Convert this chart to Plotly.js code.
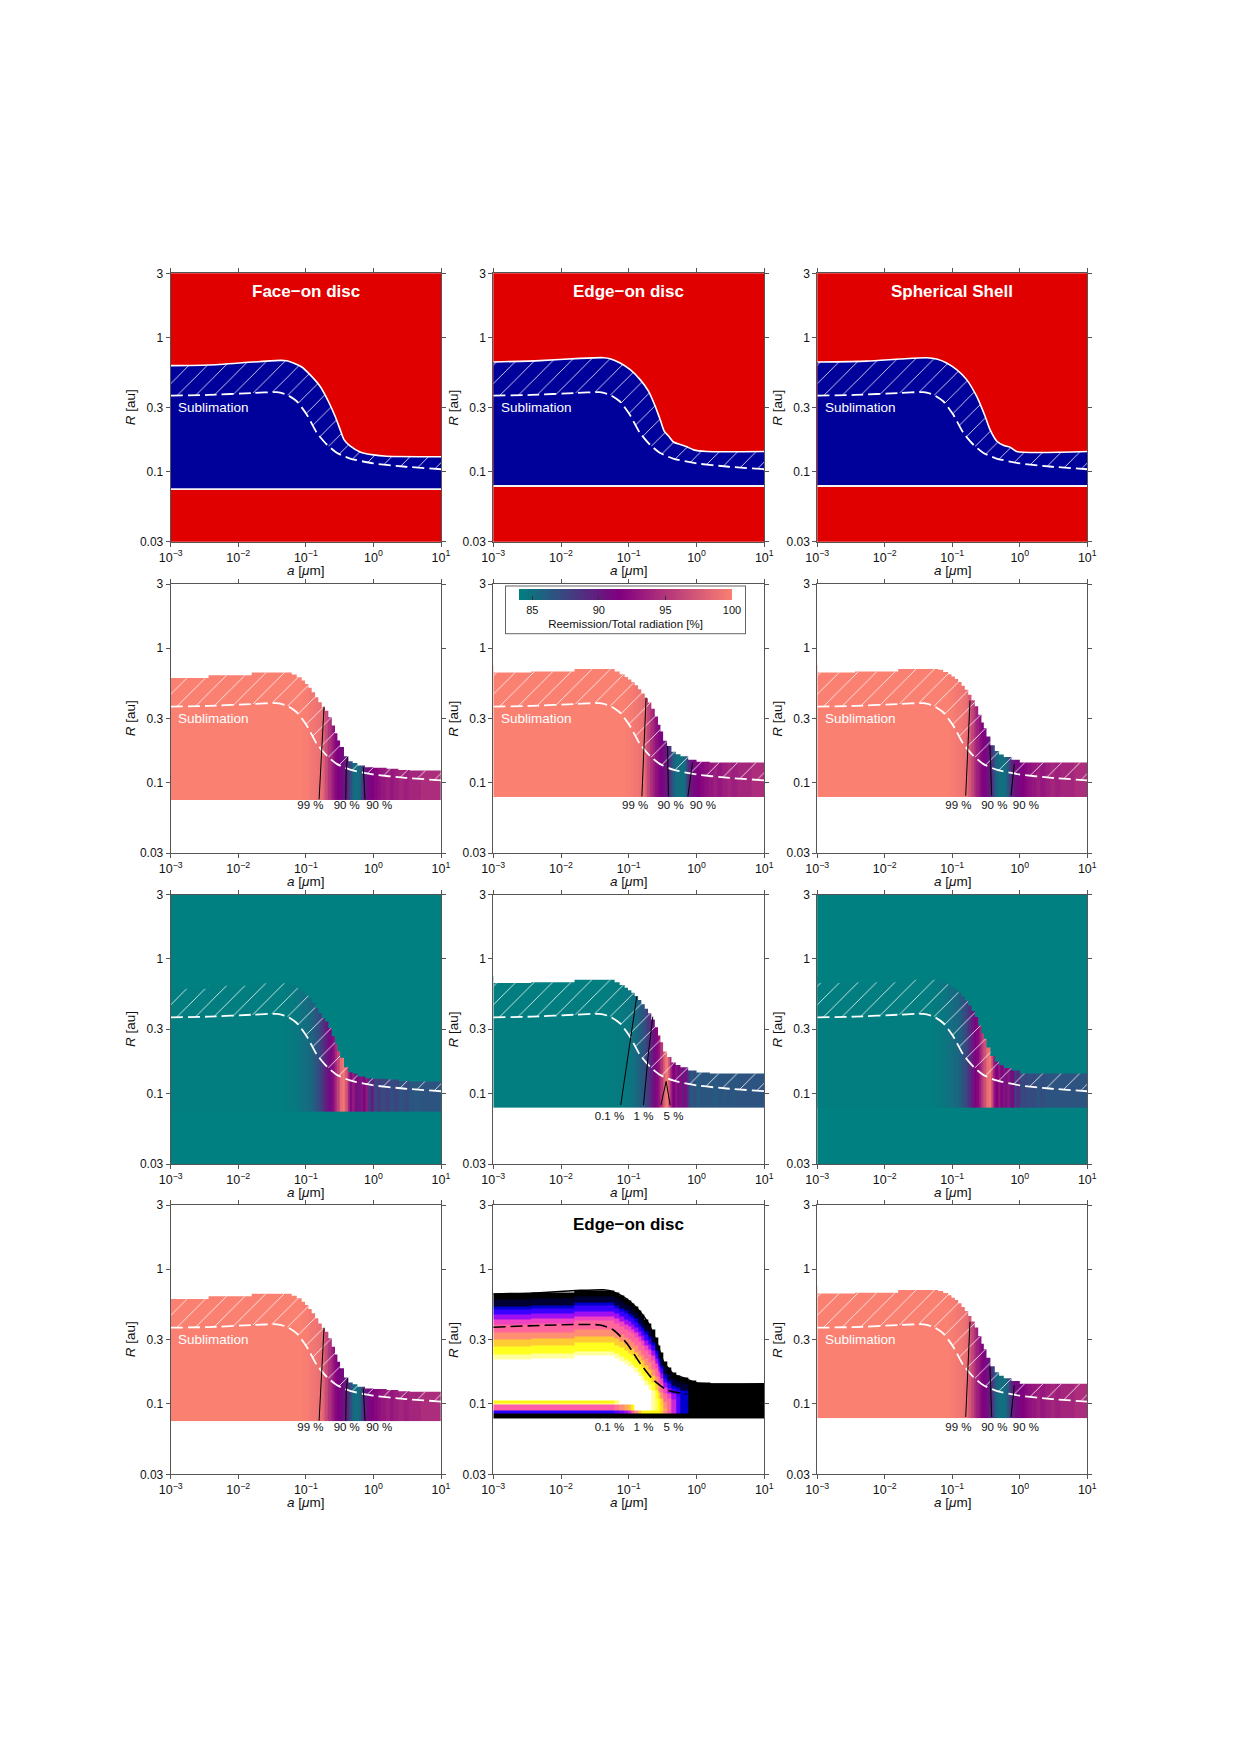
<!DOCTYPE html>
<html><head><meta charset="utf-8">
<script src="https://cdn.plot.ly/plotly-3.0.1.min.js"></script>
<style>html,body{margin:0;padding:0;background:#fff}</style>
</head><body>
<div id="chart" style="width:1241px;height:1754px"></div>
<script>
// ================= DATA =================
const aTickVals = [0.001, 0.01, 0.1, 1, 10];
const aTickText = ['10<sup>−3</sup>', '10<sup>−2</sup>', '10<sup>−1</sup>', '10<sup>0</sup>', '10<sup>1</sup>'];
const rTickVals = [0.03, 0.1, 0.3, 1, 3];
const rTickText = ['0.03', '0.1', '0.3', '1', '3'];
const xTitle = '<i>a</i> [<i>μ</i>m]';
const yTitle = '<i>R</i> [au]';

const geomTitles = ['Face−on disc', 'Edge−on disc', 'Spherical Shell'];
const innerR = [0.074, 0.078, 0.078];

// sublimation radius (dashed)
const sublimA = [0.001, 0.0036, 0.0167, 0.0371, 0.0521, 0.0733, 0.103, 0.145, 0.204, 0.286, 0.451, 1.0, 2.78, 10];
const sublimR = [0.368, 0.372, 0.385, 0.390, 0.374, 0.334, 0.266, 0.195, 0.159, 0.138, 0.125, 0.115, 0.109, 0.104];

// outer edge of the dust region (smooth)
const outerA_face = [0.001, 0.0036, 0.0167, 0.0415, 0.0521, 0.0654, 0.0869, 0.115, 0.162, 0.215, 0.270, 0.321, 0.367, 0.451, 0.634, 1.0, 1.57, 10];
const outerR_face = [0.615, 0.622, 0.655, 0.673, 0.670, 0.644, 0.601, 0.527, 0.432, 0.334, 0.259, 0.206, 0.173, 0.155, 0.140, 0.133, 0.130, 0.129];
const outerA_edge = [0.001, 0.0049, 0.0191, 0.0423, 0.0530, 0.0745, 0.105, 0.147, 0.195, 0.245, 0.290, 0.333, 0.386, 0.457, 0.574, 0.720, 0.904, 1.42, 10];
const outerR_edge = [0.655, 0.670, 0.697, 0.705, 0.693, 0.644, 0.574, 0.484, 0.397, 0.307, 0.244, 0.200, 0.184, 0.166, 0.159, 0.153, 0.145, 0.141, 0.141];
const outerA_shell = [0.001, 0.00538, 0.0168, 0.0417, 0.0586, 0.0824, 0.116, 0.163, 0.229, 0.305, 0.361, 0.454, 0.570, 0.715, 0.898, 10];
const outerR_shell = [0.655, 0.665, 0.689, 0.705, 0.689, 0.644, 0.574, 0.484, 0.364, 0.259, 0.206, 0.169, 0.157, 0.152, 0.141, 0.141];

// stepped (grid) outer edge used by the maps
const stepEdges = [0.001, 0.00363, 0.0158, 0.0618, 0.0733, 0.0869, 0.0973, 0.109, 0.122, 0.137, 0.153, 0.172, 0.192, 0.215, 0.242, 0.270, 0.293, 0.321, 0.367, 0.426, 0.494, 0.579, 0.752, 1.0, 1.57, 2.34, 3.47, 10];
const stepR_face = [0.60, 0.63, 0.659, 0.636, 0.608, 0.574, 0.542, 0.507, 0.471, 0.432, 0.396, 0.364, 0.343, 0.307, 0.266, 0.233, 0.206, 0.184, 0.157, 0.144, 0.140, 0.134, 0.130, 0.129, 0.127, 0.124, 0.123];
const stepR_edge = [0.66, 0.67, 0.70, 0.67, 0.64, 0.61, 0.585, 0.56, 0.53, 0.495, 0.46, 0.425, 0.395, 0.355, 0.31, 0.27, 0.24, 0.205, 0.187, 0.17, 0.163, 0.157, 0.148, 0.143, 0.141, 0.141, 0.141];
const stepR_shell = [0.66, 0.67, 0.70, 0.69, 0.665, 0.64, 0.615, 0.59, 0.56, 0.525, 0.49, 0.45, 0.41, 0.37, 0.32, 0.28, 0.255, 0.22, 0.19, 0.172, 0.162, 0.155, 0.148, 0.141, 0.141, 0.141, 0.141];

// colour columns (grain size bins)
const colorEdges = [0.001, 0.05, 0.065, 0.08, 0.09, 0.105, 0.115, 0.125, 0.135, 0.145, 0.16, 0.175, 0.19, 0.21, 0.23, 0.25, 0.27, 0.29, 0.32, 0.35, 0.38, 0.41, 0.44, 0.48, 0.52, 0.56, 0.6, 0.65, 0.7, 0.76, 0.82, 0.9, 1.0, 1.15, 1.3, 1.5, 1.75, 2.0, 2.4, 2.8, 3.3, 4.0, 5.0, 6.5, 8.0, 10];

// Reemission / total radiation [%]
const reemFace = [100,100,100,100, 99.9,99.7,99.5,99.4,99.3,99.1,98.8,98.0,96.5,95, 94,93,92,91.5,91,90.5,89.8,88.5,87,85.5, 85,85,85.5,87,89.5,90.5,91,91.5,92,92.5, 93,93.5,93,93.5,94,93.5,94,94,94.5,94.5,94.5];
const reemEdge = [100,100,100,100, 99.9,99.7,99.5,99.4,99.3,99.1,98.8,97.5,96,94.5, 93.5,92.5,91.8,91.2,90.6,90.2,89,87.5,86,85, 85,85,85,85.5,87.5,89.5,90.5,91,91.5,92, 92.5,93,93.5,93,93.5,94,93.5,94,94,94.5,94.5];
const reemShell = [100,100,100,100, 99.9,99.7,99.5,99.4,99.3,99.1,98.7,97.5,96,94.5, 93.5,92.5,91.8,91.2,90.6,90.0,88.5,87,85.5,85, 85,85,85.5,86.5,88,89.8,90.5,91,91.5,92, 92.5,93,93.5,93,93.5,94,93.5,94,94,94.5,94.5];

// third row: scattered fraction [%]
const scatFace = [0.05,0.1,0.2,0.3,0.4,0.5,0.6,0.75,0.9,1.1, 1.4,1.8,2.2,2.6,2.5,3.2,3.8,4.5,5.5,5.8, 5.0,3.8,2.6,3.4,2.4,3.0,2.2,3.2,2.6,3.4, 1.6,2.2,1.3,1.6,1.2,1.4,1.1,1.3,1.0,1.2, 1.0,0.9,1.0,1.0,1.0];
const scatEdge = [0.05,0.08,0.1,0.15,0.2,0.3,0.4,0.5,0.6,0.8, 1.0,1.3,1.7,2.1,2.6,3.0,3.4,4.2,5.2,5.8, 4.8,3.6,2.8,3.3,2.5,3.1,2.3,3.0,2.0,1.3, 0.9,1.1,0.8,1.0,0.9,1.0,0.8,1.0,0.9,1.0, 0.9,1.0,1.0,1.0,1.0];
const scatShell = [0.05,0.1,0.2,0.3,0.4,0.5,0.6,0.75,0.9,1.1, 1.4,1.8,2.3,2.8,3.0,3.6,4.2,4.8,5.6,5.8, 4.6,3.4,2.8,3.4,2.6,3.2,2.4,3.3,2.2,2.6, 1.4,1.8,1.2,1.3,1.1,1.2,1.0,1.1,1.0,1.0, 1.0,1.0,1.0,1.0,1.0];

// contour lines (reemission)
const cont99A = [[0.157, 0.186], [0.156, 0.180], [0.158, 0.183]];
const cont99R = [[0.075, 0.368], [0.079, 0.43], [0.080, 0.408]];
const cont90aA = [[0.389, 0.395, 0.412], [0.385, 0.380, 0.373], [0.383, 0.372, 0.361]];
const cont90aR = [[0.075, 0.12, 0.155], [0.079, 0.13, 0.187], [0.080, 0.13, 0.189]];
const cont90bA = [[0.752, 0.709], [0.745, 0.873], [0.740, 0.83]];
const cont90bR = [[0.075, 0.130], [0.079, 0.141], [0.080, 0.138]];
const reemLabelA = [[0.117, 0.403, 1.22], [0.124, 0.413, 1.24], [0.123, 0.419, 1.23]];
const reemLabelR = 0.0665;
const reemLabels = ['99 %', '90 %', '90 %'];

// contour lines (scattered fraction, edge-on)
const cont01A = [0.076, 0.100, 0.131];
const cont01R = [0.082, 0.2, 0.523];
const cont1A = [0.165, 0.195, 0.226];
const cont1R = [0.082, 0.2, 0.372];
const cont5A = [0.297, 0.356, 0.408];
const cont5R = [0.082, 0.123, 0.082];
const scatLabelA = [0.0518, 0.165, 0.457];
const scatLabels = ['0.1 %', '1 %', '5 %'];

// edge-on disc map (bottom middle)
const edgeSubA = [0.001, 0.0377, 0.0593, 0.0933, 0.147, 0.232, 0.365, 0.720];
const edgeSubR = [0.371, 0.385, 0.354, 0.282, 0.200, 0.150, 0.127, 0.118];
const edgeTopDepth = [0.044, 0.094, 0.118, 0.156, 0.193, 0.230, 0.293, 0.342, 0.391, 0.453, 0.49];
const edgeTopLevel = [0, 0.05, 0.2, 0.32, 0.45, 0.55, 0.62, 0.7, 0.82, 0.93, 0.97];
const edgeBotR = [0.0857, 0.0897, 0.098, 0.1007, 0.106];
const edgeBotLevel = [0, 0.3, 0.6, 0.97, 0.9];
const edgeColMax = [1,1,1,1,1,1,1,1,1,1,1,1,1,0.97,0.95,0.92,0.85,0.75,0.62,0.5,0.35,0.2,0,0,0,0,0];
const edgeColBoost = [0,0,0,0.05,0.1,0.15,0.2,0.3,0.4,0.5,0.6,0.6,0.6,0.6,0.6,0.6,0.5,0.4,0.3,0.2,0.1,0,0,0,0,0,0];

// ================= STYLE / LAYOUT =================
const FONT = 'Liberation Sans, Arial, Helvetica, sans-serif';
const W = 1241, H = 1754;
const colPx = [[170.7, 441], [493.3, 764.3], [817.3, 1087.3]];
const rowPx = [[273.3, 541.7], [584, 853], [894.5, 1164], [1205, 1474.3]];
const RED = '#e00000', BLUE = '#00009a', TEAL = '#008080';
const reemScale = [[0, '#008080'], [0.47, '#800080'], [1, '#fa8072']];
const gnuplot2 = [[0, '#000000'], [0.25, '#0000ff'], [0.42, '#8700ff'], [0.57, '#ff4db7'], [0.75, '#ffa857'], [0.92, '#ffff00'], [1, '#ffffff']];
const hatch = {shape: '/', fgcolor: 'rgba(255,255,255,0.85)', bgcolor: 'rgba(0,0,0,0)', size: 13, solidity: 0.07};

const outerA = [outerA_face, outerA_edge, outerA_shell];
const outerR = [outerR_face, outerR_edge, outerR_shell];
const stepR = [stepR_face, stepR_edge, stepR_shell];
const reem = [reemFace, reemEdge, reemShell];
const scat = [scatFace, scatEdge, scatShell];

const traces = [];
const layout = {
  width: W, height: H, margin: {l: 0, r: 0, t: 0, b: 0},
  paper_bgcolor: '#ffffff', plot_bgcolor: 'rgba(0,0,0,0)', showlegend: false,
  font: {family: FONT, color: '#000'}, shapes: [], annotations: []
};

function sfx(n) { return n === 1 ? '' : String(n); }

function stepXY(c) {
  const x = stepEdges.slice();
  const y = stepR[c].concat([stepR[c][stepR[c].length - 1]]);
  return {x, y};
}

for (let r = 0; r < 4; r++) {
  for (let c = 0; c < 3; c++) {
    const n = r * 3 + c + 1;
    const xa = 'x' + sfx(n), ya = 'y' + sfx(n);
    const pw = colPx[c][1] - colPx[c][0], ph = rowPx[r][1] - rowPx[r][0];
    layout['xaxis' + sfx(n)] = {
      type: 'log', range: [-3, 1], domain: [colPx[c][0] / W, colPx[c][1] / W], anchor: ya,
      tickmode: 'array', tickvals: aTickVals, ticktext: aTickText,
      ticks: 'outside', ticklen: 4, tickwidth: 1, tickcolor: '#555',
      showline: true, linecolor: '#555', linewidth: 1, mirror: 'ticks',
      showgrid: false, zeroline: false, fixedrange: true,
      tickfont: {size: 12.5, family: FONT, color: '#111'}
    };
    layout['yaxis' + sfx(n)] = {
      type: 'log', range: [Math.log10(0.03), Math.log10(3)],
      domain: [1 - rowPx[r][1] / H, 1 - rowPx[r][0] / H], anchor: xa,
      tickmode: 'array', tickvals: rTickVals, ticktext: rTickText,
      ticks: 'outside', ticklen: 4, tickwidth: 1, tickcolor: '#555',
      showline: true, linecolor: '#555', linewidth: 1, mirror: 'ticks',
      showgrid: false, zeroline: false, fixedrange: true,
      tickfont: {size: 12, family: FONT, color: '#111'}
    };
    // axis titles
    layout.annotations.push({xref: xa + ' domain', yref: ya + ' domain', x: 0.5, y: -28.5 / ph, xanchor: 'center', yanchor: 'middle',
      text: xTitle, showarrow: false, font: {size: 13.5, family: FONT, color: '#111'}});
    layout.annotations.push({xref: xa + ' domain', yref: ya + ' domain', x: -40 / pw, y: 0.5, xanchor: 'center', yanchor: 'middle',
      text: yTitle, textangle: -90, showarrow: false, font: {size: 13.5, family: FONT, color: '#111'}});

    const base = {xaxis: xa, yaxis: ya, hoverinfo: 'skip', showlegend: false};
    const isEdgeMap = (r === 3 && c === 1);
    const bgColor = (r === 0) ? RED : (r === 2 && c !== 1) ? TEAL : null;
    if (bgColor) {
      layout.shapes.push({type: 'rect', xref: xa + ' domain', yref: ya + ' domain', x0: 0, x1: 1, y0: 0, y1: 1,
        fillcolor: bgColor, line: {width: 0}, layer: 'below'});
    }

    if (r === 0) {
      traces.push(Object.assign({}, base, {x: [0.001, 10], y: [innerR[c], innerR[c]], mode: 'lines', line: {color: '#f4f4f4', width: 1.8}}));
      traces.push(Object.assign({}, base, {x: outerA[c], y: outerR[c], mode: 'lines', line: {color: '#ffffff', width: 1.6, shape: 'spline', smoothing: 0.6}, fill: 'tonexty', fillcolor: BLUE}));
      traces.push(Object.assign({}, base, {x: sublimA, y: sublimR, mode: 'lines', line: {color: '#ffffff', width: 1.8, dash: '12px,5px', shape: 'spline', smoothing: 0.6}}));
      traces.push(Object.assign({}, base, {x: outerA[c], y: outerR[c], mode: 'lines', line: {width: 0, shape: 'spline', smoothing: 0.6}, fill: 'tonexty', fillcolor: 'rgba(0,0,0,0)', fillpattern: hatch}));
    } else if (!isEdgeMap) {
      const isScat = (r === 2);
      const hm = Object.assign({}, base, {
        type: 'heatmap', x: colorEdges, y: [innerR[c], 0.75], z: [isScat ? scat[c] : reem[c]],
        colorscale: reemScale, zmin: isScat ? 0 : 84, zmax: isScat ? 6 : 100,
        showscale: (r === 1 && c === 1)
      });
      if (r === 1 && c === 1) {
        hm.colorbar = {
          orientation: 'h', x: 625.5 / W, xanchor: 'center', y: 1 - 586 / H, yanchor: 'top',
          len: 239, lenmode: 'pixels', thickness: 11, thicknessmode: 'pixels',
          tickmode: 'array', tickvals: [85, 90, 95, 100], ticks: 'inside', ticklen: 4, tickcolor: '#333',
          tickfont: {size: 11, family: FONT, color: '#111'},
          title: {text: 'Reemission/Total radiation [%]', side: 'bottom', font: {size: 11.5, family: FONT, color: '#111'}},
          outlinewidth: 0, bordercolor: '#666', borderwidth: 1, bgcolor: '#ffffff', xpad: 13, ypad: 3
        };
      }
      traces.push(hm);
      const maskBg = isScat && c !== 1 ? TEAL : '#ffffff';
      const s = stepXY(c);
      traces.push(Object.assign({}, base, {
        x: s.x.concat([10, 0.001]), y: s.y.concat([3.2, 3.2]), mode: 'lines',
        line: {width: 0, shape: 'hv'}, fill: 'toself', fillcolor: maskBg
      }));
      traces.push(Object.assign({}, base, {x: sublimA, y: sublimR, mode: 'lines', line: {color: '#ffffff', width: 1.8, dash: '12px,5px', shape: 'spline', smoothing: 0.6}}));
      traces.push(Object.assign({}, base, {x: s.x, y: s.y, mode: 'lines', line: {width: 0, shape: 'hv'}, fill: 'tonexty', fillcolor: 'rgba(0,0,0,0)', fillpattern: hatch}));
      if (!isScat) {
        [[cont99A, cont99R], [cont90aA, cont90aR], [cont90bA, cont90bR]].forEach(p => {
          traces.push(Object.assign({}, base, {x: p[0][c], y: p[1][c], mode: 'lines', line: {color: '#000', width: 1}}));
        });
        traces.push(Object.assign({}, base, {x: reemLabelA[c], y: reemLabelA[c].map(() => reemLabelR), mode: 'text', text: reemLabels, textposition: 'middle center', textfont: {size: 11.5, family: FONT, color: '#111'}}));
      } else if (c === 1) {
        [[cont01A, cont01R], [cont1A, cont1R], [cont5A, cont5R]].forEach(p => {
          traces.push(Object.assign({}, base, {x: p[0], y: p[1], mode: 'lines', line: {color: '#000', width: 1}}));
        });
        traces.push(Object.assign({}, base, {x: scatLabelA, y: scatLabelA.map(() => reemLabelR), mode: 'text', text: scatLabels, textposition: 'middle center', textfont: {size: 11.5, family: FONT, color: '#111'}}));
      }
    } else {
      // edge-on disc map
      const rowEdges = [];
      for (let l = Math.log10(innerR[1]); l <= Math.log10(0.75) + 1e-9; l += 0.004) rowEdges.push(Math.pow(10, l));
      const z = [];
      for (let j = 0; j < rowEdges.length - 1; j++) {
        const rc = Math.sqrt(rowEdges[j] * rowEdges[j + 1]);
        const row = [];
        for (let i = 0; i < stepEdges.length - 1; i++) {
          const top = stepR_edge[i];
          if (rc > top) { row.push(null); continue; }
          const d = Math.log10(top / rc);
          let tv = 1;
          for (let k = 0; k < edgeTopDepth.length; k++) if (d < edgeTopDepth[k]) { tv = edgeTopLevel[k]; break; }
          let bv = 1;
          for (let k = 0; k < edgeBotR.length; k++) if (rc < edgeBotR[k]) { bv = k === 0 ? 0 : Math.min(1, edgeBotLevel[k] + edgeColBoost[i]); break; }
          row.push(Math.min(tv, bv, edgeColMax[i]));
        }
        z.push(row);
      }
      traces.push(Object.assign({}, base, {type: 'heatmap', x: stepEdges, y: rowEdges, z: z, colorscale: gnuplot2, zmin: 0, zmax: 1, showscale: false}));
      traces.push(Object.assign({}, base, {x: outerA_edge, y: outerR_edge, mode: 'lines', line: {color: '#000', width: 1.5, shape: 'spline', smoothing: 0.6}}));
      traces.push(Object.assign({}, base, {x: edgeSubA, y: edgeSubR, mode: 'lines', line: {color: '#000', width: 1.6, dash: '12px,5px', shape: 'spline', smoothing: 0.6}}));
      traces.push(Object.assign({}, base, {x: scatLabelA, y: scatLabelA.map(() => reemLabelR), mode: 'text', text: scatLabels, textposition: 'middle center', textfont: {size: 11.5, family: FONT, color: '#111'}}));
    }

    // Sublimation label
    if (r === 0 || r === 1 || (r === 3 && c !== 1)) {
      layout.annotations.push({xref: xa + ' domain', yref: ya + ' domain', x: 0.02, y: 0.5, xanchor: 'left', yanchor: 'middle',
        text: 'Sublimation', showarrow: false, font: {size: 13.5, family: FONT, color: '#ffffff'}});
    }
    // panel titles
    if (r === 0) {
      layout.annotations.push({xref: xa + ' domain', yref: ya + ' domain', x: 0.5, y: 0.931, xanchor: 'center', yanchor: 'middle',
        text: '<b>' + geomTitles[c] + '</b>', showarrow: false, font: {size: 17, family: FONT, color: '#ffffff'}});
    }
    if (isEdgeMap) {
      layout.annotations.push({xref: xa + ' domain', yref: ya + ' domain', x: 0.5, y: 0.926, xanchor: 'center', yanchor: 'middle',
        text: '<b>' + geomTitles[1] + '</b>', showarrow: false, font: {size: 17, family: FONT, color: '#000000'}});
    }
  }
}

Plotly.newPlot('chart', traces, layout, {staticPlot: true, displayModeBar: false});
</script>
</body></html>
